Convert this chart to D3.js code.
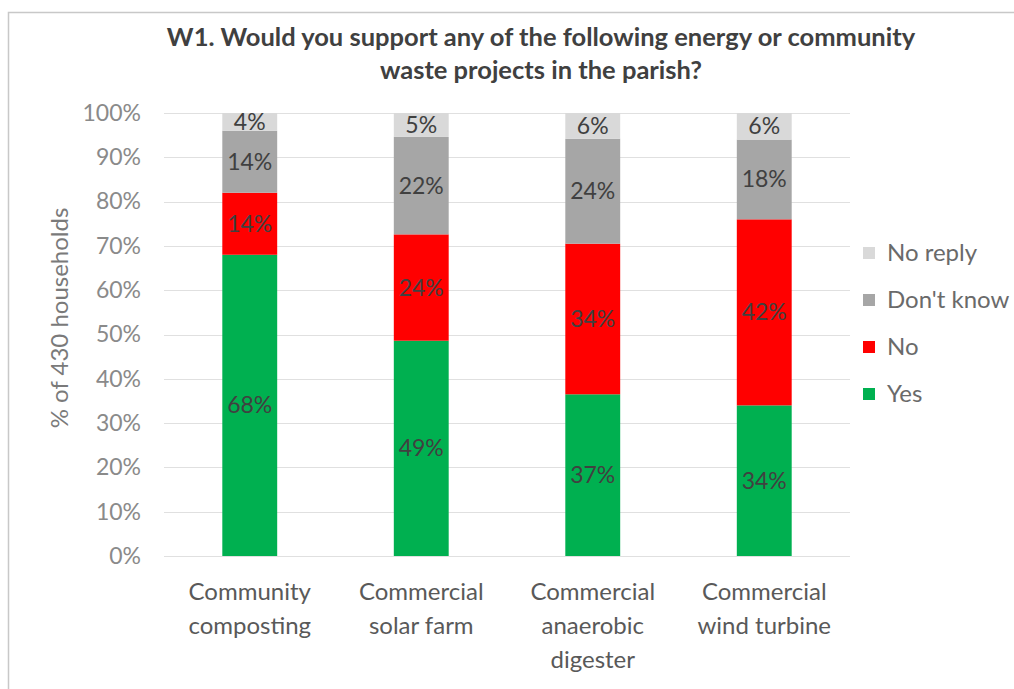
<!DOCTYPE html>
<html><head><meta charset="utf-8">
<script src="https://cdn.jsdelivr.net/npm/d3@7"></script>
<style>
body{margin:0;background:#fff;}
text{font-family:Lato, "Liberation Sans", sans-serif;}
</style></head>
<body><svg id="c" width="1014" height="689"></svg>
<script>
const categories = [["Community","composting"],["Commercial","solar farm"],["Commercial","anaerobic","digester"],["Commercial","wind turbine"]];
const seriesNames = ["Yes","No","Don't know","No reply"];
const yesVals = [68, 48.6, 36.5, 34];
const noVals = [14, 24, 34, 42];
const dkVals = [14, 22, 23.7, 18];
const nrVals = [4, 5.4, 5.8, 6];
const yTicks = [0,10,20,30,40,50,60,70,80,90,100];
const colors = ["#00b050","#ff0000","#a6a6a6","#d9d9d9"];
const titleLines = ["W1. Would you support any of the following energy or community","waste projects in the parish?"];
const yTitle = "% of 430 households";

const svg = d3.select("#c");
// border
svg.append("path").attr("d","M8.5,689 L8.5,12.5 L1014,12.5").attr("fill","none").attr("stroke","#c8c8c8").attr("stroke-width",1.5);

const x = d3.scaleBand().domain(d3.range(categories.length)).range([164,850]).paddingInner(0.68).paddingOuter(0.34);
const y = d3.scaleLinear().domain([0,100]).range([556,113]);

// grid
svg.append("g").selectAll("line").data(yTicks).join("line")
  .attr("x1",164).attr("x2",850).attr("y1",d=>Math.round(y(d))+0.5).attr("y2",d=>Math.round(y(d))+0.5)
  .attr("stroke","#e0e0e0").attr("stroke-width",1.2);

// y axis labels
const yAxis = d3.axisLeft(y).tickValues(yTicks).tickFormat(d=>d+"%").tickSize(0).tickPadding(0);
const ga = svg.append("g").attr("transform","translate(141,0)").call(yAxis);
ga.select(".domain").remove();
ga.selectAll("text").attr("font-size",23).attr("fill","#8a8a8a").attr("font-family","Lato, sans-serif");

svg.append("text").attr("transform","translate(68,318) rotate(-90)").attr("text-anchor","middle")
  .attr("font-size",24).attr("fill","#7a7a7a").text(yTitle);

// stack
const rows = categories.map((c,i)=>({i, "Yes":yesVals[i], "No":noVals[i], "Don't know":dkVals[i], "No reply":nrVals[i]}));
const stack = d3.stack().keys(seriesNames)(rows);
stack.forEach((s,k)=>{
  const g = svg.append("g");
  g.selectAll("rect").data(s).join("rect")
    .attr("x",d=>x(d.data.i)).attr("width",x.bandwidth())
    .attr("y",d=>y(d[1])).attr("height",d=>y(d[0])-y(d[1]))
    .attr("fill",colors[k]);
  g.selectAll("text").data(s).join("text")
    .attr("x",d=>x(d.data.i)+x.bandwidth()/2).attr("y",d=>(y(d[0])+y(d[1]))/2+8)
    .attr("text-anchor","middle").attr("font-size",23).attr("fill","#404040")
    .text(d=>Math.round(d[1]-d[0])+"%");
});

// category labels
categories.forEach((lines,i)=>{
  const t = svg.append("text").attr("text-anchor","middle").attr("font-size",24).attr("fill","#595959");
  lines.forEach((l,j)=>t.append("tspan").attr("x",x(i)+x.bandwidth()/2).attr("y",600+j*34).text(l));
});

// title
const tt = svg.append("text").attr("text-anchor","middle").attr("font-size",25.5).attr("font-weight","bold").attr("fill","#404040");
titleLines.forEach((l,j)=>tt.append("tspan").attr("x",541).attr("y",46+j*33).text(l));

// legend
const legendOrder = [3,2,1,0];
legendOrder.forEach((k,r)=>{
  const cy = 253 + r*47;
  svg.append("rect").attr("x",863).attr("y",cy-6).attr("width",12).attr("height",12).attr("fill",colors[k]);
  svg.append("text").attr("x",887).attr("y",cy+8).attr("font-size",24).attr("fill","#6a6a6a").text(seriesNames[k]);
});
</script></body></html>
